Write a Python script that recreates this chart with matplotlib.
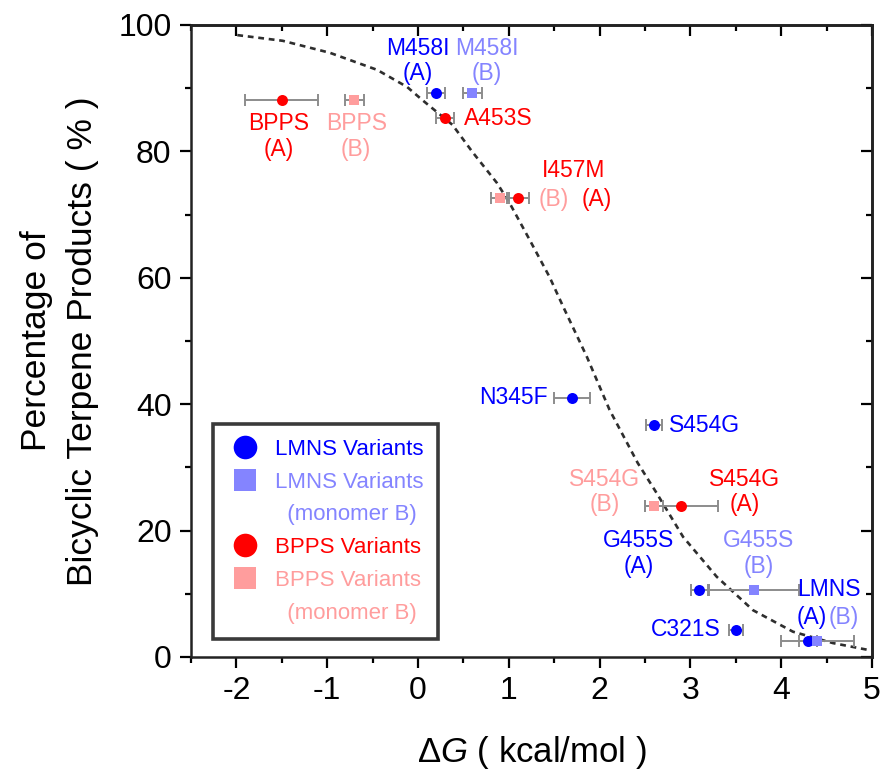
import matplotlib
matplotlib.use("Agg")
import matplotlib.pyplot as plt
from matplotlib.lines import Line2D
from matplotlib.ticker import MultipleLocator

plt.rcParams["font.family"] = ["Liberation Sans", "DejaVu Sans"]
plt.rcParams["mathtext.fontset"] = "custom"
plt.rcParams["mathtext.rm"] = "Liberation Sans"
plt.rcParams["mathtext.it"] = "Liberation Sans:italic"
plt.rcParams["axes.unicode_minus"] = False

BLUE = "#0000ff"
LBLUE = "#8484ff"
RED = "#ff0000"
PINK = "#ff9d9d"
GREY = "#8c8c8c"

# LMNS variants, monomer A (LMNS, C321S, G455S, S454G, N345F, M458I)
lmns_a_dg = [4.3, 3.5, 3.1, 2.6, 1.7, 0.2]
lmns_a_err = [0.1, 0.08, 0.09, 0.09, 0.2, 0.1]
lmns_a_pct = [2.5, 4.2, 10.6, 36.7, 41.0, 89.3]

# LMNS variants, monomer B (LMNS, G455S, M458I)
lmns_b_dg = [4.4, 3.7, 0.6]
lmns_b_err = [0.4, 0.5, 0.1]
lmns_b_pct = [2.5, 10.6, 89.3]

# BPPS variants, monomer A (BPPS, A453S, I457M, S454G)
bpps_a_dg = [-1.5, 0.3, 1.1, 2.9]
bpps_a_err = [0.4, 0.1, 0.12, 0.4]
bpps_a_pct = [88.1, 85.3, 72.6, 23.9]

# BPPS variants, monomer B (BPPS, I457M, S454G)
bpps_b_dg = [-0.7, 0.9, 2.6]
bpps_b_err = [0.1, 0.1, 0.1]
bpps_b_pct = [88.1, 72.6, 23.9]

# dashed fit curve
fit_dg = [-1.99, -1.49, -0.97, -0.45, -0.12, 0.05, 0.38, 0.60, 0.87, 1.01, 1.23,
          1.45, 1.60, 1.86, 2.11, 2.42, 2.63, 2.92, 3.29, 3.69, 4.13, 4.57, 5.0]
fit_pct = [98.4, 97.5, 95.6, 92.9, 90.2, 88.1, 84.2, 79.9, 75.0, 71.8, 66.0,
           60.1, 55.4, 47.5, 39.1, 30.7, 25.9, 19.0, 12.7, 7.4, 4.0, 2.2, 1.0]


fig = plt.figure(figsize=(8.83, 7.81), dpi=100)
ax = fig.add_axes([0.2163, 0.1588, 0.7712, 0.8092])

ax.plot(fit_dg, fit_pct, color="#2e2e2e", lw=1.9, dashes=(2.2, 1.8), zorder=1)

series = [
    (lmns_a_dg, lmns_a_pct, lmns_a_err, "o", BLUE, 11),
    (lmns_b_dg, lmns_b_pct, lmns_b_err, "s", LBLUE, 9.5),
    (bpps_a_dg, bpps_a_pct, bpps_a_err, "o", RED, 11),
    (bpps_b_dg, bpps_b_pct, bpps_b_err, "s", PINK, 9.5),
]
for dg, pct, err, mk, col, ms in series:
    ax.errorbar(dg, pct, xerr=err, fmt="none", ecolor=GREY, elinewidth=1.4,
                capsize=4, capthick=1.4, zorder=2)
    ax.plot(dg, pct, mk, color=col, markersize=ms * 0.72, markeredgewidth=0,
            linestyle="none", zorder=3)

fs = 16.5
def lab(x, y, s, c, ha="center"):
    ax.text(x, y, s, color=c, fontsize=fs, ha=ha, va="center",
            multialignment="center", linespacing=1.15, zorder=4)

lab(0.0, 94.3, "M458I\n(A)", BLUE)
lab(0.76, 94.3, "M458I\n(B)", LBLUE)
lab(-1.53, 82.4, "BPPS\n(A)", RED)
lab(-0.68, 82.4, "BPPS\n(B)", PINK)
lab(0.51, 85.2, "A453S", RED, ha="left")
lab(1.71, 76.9, "I457M", RED)
lab(1.49, 72.4, "(B)", PINK)
lab(1.97, 72.4, "(A)", RED)
lab(1.43, 41.0, "N345F", BLUE, ha="right")
lab(2.76, 36.7, "S454G", BLUE, ha="left")
lab(2.06, 26.1, "S454G\n(B)", PINK)
lab(3.6, 26.1, "S454G\n(A)", RED)
lab(2.43, 16.4, "G455S\n(A)", BLUE)
lab(3.75, 16.4, "G455S\n(B)", LBLUE)
lab(4.52, 10.6, "LMNS", BLUE)
lab(4.34, 6.2, "(A)", BLUE)
lab(4.69, 6.2, "(B)", LBLUE)
lab(3.33, 4.3, "C321S", BLUE, ha="right")

ax.set_xlim(-2.5, 5)
ax.set_ylim(0, 100)
ax.xaxis.set_major_locator(MultipleLocator(1))
ax.xaxis.set_minor_locator(MultipleLocator(0.5))
ax.yaxis.set_major_locator(MultipleLocator(20))
ax.yaxis.set_minor_locator(MultipleLocator(10))
ax.tick_params(which="both", direction="out", width=1.6, labelsize=23, pad=6)
ax.tick_params(which="major", length=8)
ax.tick_params(which="minor", length=4.5)
for sp in ax.spines.values():
    sp.set_linewidth(1.8)
    sp.set_color("#222222")

secx = ax.secondary_xaxis("top")
secx.xaxis.set_major_locator(MultipleLocator(1))
secx.xaxis.set_minor_locator(MultipleLocator(0.5))
secx.tick_params(which="both", direction="in", width=1.6, labeltop=False)
secx.tick_params(which="major", length=8)
secx.tick_params(which="minor", length=4.5)
secx.spines["top"].set_linewidth(1.8)

secy = ax.secondary_yaxis("right")
secy.yaxis.set_major_locator(MultipleLocator(20))
secy.yaxis.set_minor_locator(MultipleLocator(10))
secy.tick_params(which="both", direction="in", width=1.6, labelright=False)
secy.tick_params(which="major", length=8)
secy.tick_params(which="minor", length=4.5)
secy.spines["right"].set_linewidth(1.8)

ax.set_xlabel("Δ$G$ ( kcal/mol )", fontsize=25, labelpad=20)
ax.set_ylabel("Percentage of\nBicyclic Terpene Products ( % )", fontsize=25.5,
              linespacing=1.5, labelpad=14)

handles = [
    Line2D([], [], marker="o", color=BLUE, ls="none", markersize=17, mew=0),
    Line2D([], [], marker="s", color=LBLUE, ls="none", markersize=15.5, mew=0),
    Line2D([], [], ls="none"),
    Line2D([], [], marker="o", color=RED, ls="none", markersize=17, mew=0),
    Line2D([], [], marker="s", color=PINK, ls="none", markersize=15.5, mew=0),
    Line2D([], [], ls="none"),
]
labels = ["LMNS Variants", "LMNS Variants", "  (monomer B)",
          "BPPS Variants", "BPPS Variants", "  (monomer B)"]
leg = ax.legend(handles, labels, loc="upper left", bbox_to_anchor=(0.032, 0.369),
                borderaxespad=0, fontsize=16, labelcolor=[BLUE, LBLUE, LBLUE, RED, PINK, PINK],
                frameon=True, fancybox=False, edgecolor="#3a3a3a", framealpha=1,
                borderpad=0.68, labelspacing=0.53, handlelength=1.5, handletextpad=0.6)
leg.get_frame().set_linewidth(2.6)

fig.savefig("out.png", dpi=100)
